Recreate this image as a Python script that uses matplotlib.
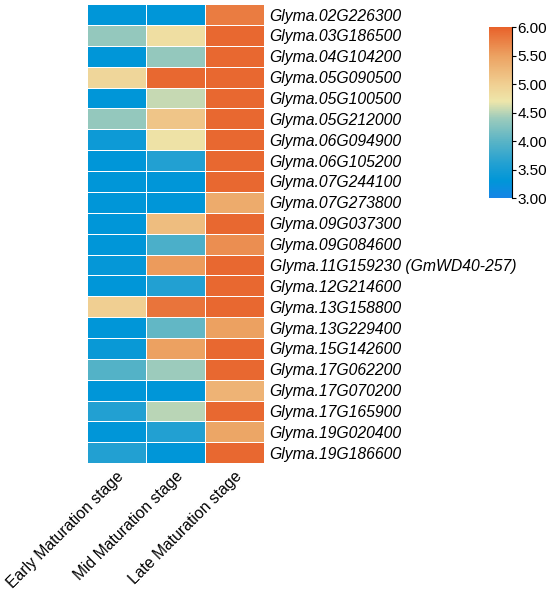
import numpy as np
import matplotlib
matplotlib.use("Agg")
import matplotlib.pyplot as plt
from matplotlib.colors import LinearSegmentedColormap

plt.rcParams['font.family'] = ['Liberation Sans', 'DejaVu Sans']

genes = ["Glyma.02G226300", "Glyma.03G186500", "Glyma.04G104200", "Glyma.05G090500",
         "Glyma.05G100500", "Glyma.05G212000", "Glyma.06G094900", "Glyma.06G105200",
         "Glyma.07G244100", "Glyma.07G273800", "Glyma.09G037300", "Glyma.09G084600",
         "Glyma.11G159230 (GmWD40-257)", "Glyma.12G214600", "Glyma.13G158800",
         "Glyma.13G229400", "Glyma.15G142600", "Glyma.17G062200", "Glyma.17G070200",
         "Glyma.17G165900", "Glyma.19G020400", "Glyma.19G186600"]
stages = ["Early Maturation stage", "Mid Maturation stage", "Late Maturation stage"]

early = [3.3, 4.35, 3.3, 4.9, 3.3, 4.35, 3.42, 3.3, 3.3, 3.3, 3.3,
         3.3, 3.35, 3.3, 5.0, 3.3, 3.38, 3.95, 3.3, 3.6, 3.3, 3.6]
mid = [3.3, 4.8, 4.35, 5.95, 4.55, 5.1, 4.75, 3.6, 3.3, 3.3, 5.2,
       3.9, 5.55, 3.6, 5.85, 4.05, 5.5, 4.4, 3.3, 4.5, 3.6, 3.3]
late = [5.8, 5.95, 5.95, 5.95, 5.95, 5.95, 5.95, 5.95, 5.95, 5.4, 5.95,
        5.65, 5.95, 5.95, 5.95, 5.5, 5.95, 5.95, 5.3, 5.95, 5.45, 5.95]

data = np.array([early, mid, late]).T

nodes = [(0.0, '#1685e6'), (0.3 / 3, '#0096d8'), (0.6 / 3, '#22a0d2'),
         (1.0 / 3, '#5ab4c6'), (1.4 / 3, '#9ccbbc'), (1.7 / 3, '#eee6aa'),
         (2.0 / 3, '#f0cf92'), (2.5 / 3, '#eca262'), (1.0, '#e8622b')]
cmap = LinearSegmentedColormap.from_list('expr', nodes)

fig = plt.figure(figsize=(5.5, 5.93), dpi=100)
ax = fig.add_axes([0.158, 0.219, 0.322, 0.774])
mesh = ax.pcolormesh(data, cmap=cmap, vmin=3, vmax=6, edgecolors='white', linewidth=0.7)
ax.set_xlim(0, 3)
ax.set_ylim(len(genes), 0)

ax.set_yticks(np.arange(len(genes)) + 0.5)
ax.set_yticklabels(genes, fontsize=11.3, style='italic')
ax.yaxis.tick_right()
ax.set_xticks(np.arange(3) + 0.5)
ax.set_xticklabels(stages, fontsize=11.3, rotation=45, ha='right', rotation_mode='anchor')
ax.tick_params(length=0, pad=4)
for s in ax.spines.values():
    s.set_visible(False)

cax = fig.add_axes([0.889, 0.666, 0.042, 0.288])
cb = fig.colorbar(mesh, cax=cax, ticks=[3, 3.5, 4, 4.5, 5, 5.5, 6], format='%.2f')
cb.outline.set_visible(False)
cax.plot([1, 1], [0, 1], transform=cax.transAxes, color='black', lw=0.8, clip_on=False)
cax.tick_params(labelsize=11, length=3, width=0.8, pad=1)

fig.savefig("out.png", dpi=100)
